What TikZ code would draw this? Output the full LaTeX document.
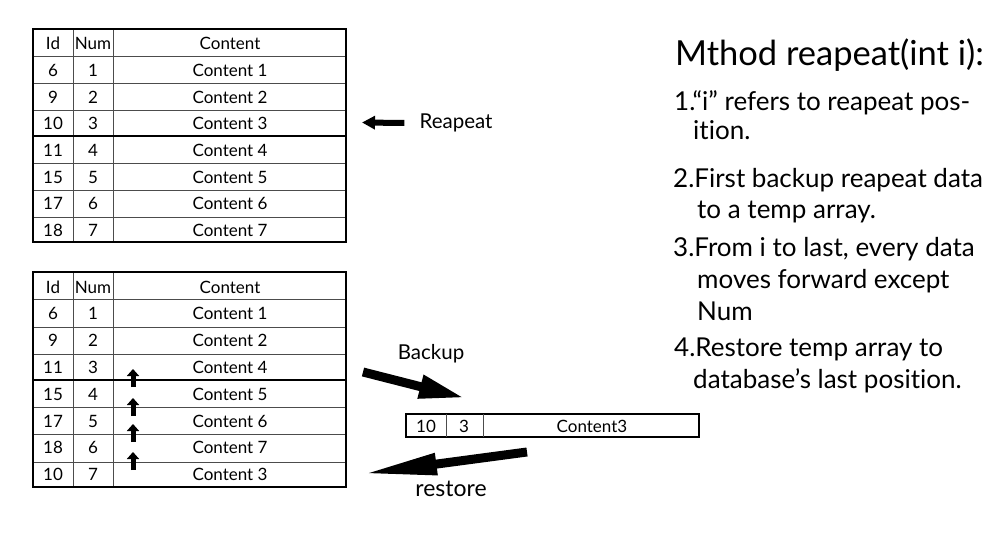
\documentclass[tikz,border=0pt]{standalone}
\usepackage{fontspec}
\setmainfont{Lato}[Ligatures=NoCommon]
\usetikzlibrary{arrows.meta}
\tikzset{
  cell/.style={font=\fontsize{17}{17}\selectfont, inner sep=0pt, text height=12pt, text depth=3.5pt},
  label/.style={font=\fontsize{20.5}{20.5}\selectfont, inner sep=0pt},
  line/.style={font=\fontsize{26}{26}\selectfont, inner sep=0pt, anchor=base west},
  grid/.style={line width=0.6pt, black!70},
  frame/.style={line width=1.6pt},
  uparrow/.style={line width=5pt, -{Triangle[length=7pt,width=12pt]}},
  fatarrow/.style={line width=6pt, -{Triangle[length=13pt,width=13pt]}}
}
\begin{document}
\begin{tikzpicture}[x=1pt,y=-1pt]
	\useasboundingbox (0,0) rectangle (1000,556);
	
	% upper table
	\foreach \y in {56,83,110,163,190,217} \draw[grid] (33,\y) -- (346,\y);
	\draw[grid] (73,29) -- (73,242);
	\draw[grid] (113,29) -- (113,242);
	\draw[frame] (33,29) rectangle (346,242);
	\draw[frame] (33,136) -- (346,136);
	\foreach \id/\num/\txt [count=\r] in {Id/Num/Content, 6/1/Content 1, 9/2/Content 2, 10/3/Content 3, 11/4/Content 4, 15/5/Content 5, 17/6/Content 6, 18/7/Content 7} {
		\node[cell] (up-id\r) at (53,{18.8+26.7*\r}) {\id};
		\node[cell] (up-num\r) at (93,{18.8+26.7*\r}) {\num};
		\node[cell] (up-txt\r) at (230,{18.8+26.7*\r}) {\txt};
	}
	
	% lower table
	\foreach \y in {299,327,354,407,434,462} \draw[grid] (33,\y) -- (346,\y);
	\draw[grid] (73,272) -- (73,487);
	\draw[grid] (113,272) -- (113,487);
	\draw[frame] (33,272) rectangle (346,487);
	\draw[frame] (33,380) -- (346,380);
	\foreach \id/\num/\txt [count=\r] in {Id/Num/Content, 6/1/Content 1, 9/2/Content 2, 11/3/Content 4, 15/4/Content 5, 17/5/Content 6, 18/6/Content 7, 10/7/Content 3} {
		\node[cell] (low-id\r) at (53,{262+26.8*\r}) {\id};
		\node[cell] (low-num\r) at (93,{262+26.8*\r}) {\num};
		\node[cell] (low-txt\r) at (230,{262+26.8*\r}) {\txt};
	}
	
	% rows moving up
	\foreach \y in {387,416,442,470} \draw[uparrow] (133,\y) -- (133,\y-18);
	
	% temp array
	\draw[frame] (406,414) rectangle (699,437);
	\draw[grid] (446,414) -- (446,437);
	\draw[grid] (483,414) -- (483,437);
	\node[cell] (tmp-id) at (426,428) {10};
	\node[cell] (tmp-num) at (464,428) {3};
	\node[cell] (tmp-txt) at (592,428) {Content3};
	
	% labels and arrows
	\node[label] (reapeat) at (456,123) {Reapeat};
	\coordinate (reapeat-tip) at (362,122.5);
	\draw[fatarrow] (reapeat.west) ++(-15,0) -- (reapeat-tip);
	
	\node[label] (backup) at (431,354) {Backup};
	\coordinate (backup-tail) at (363,372);
	\coordinate (backup-tip) at (465,398);
	\draw[line width=9pt, -{Triangle[length=46pt,width=22pt]}] (backup-tail) -- (backup-tip);
	
	\node[label, font=\fontsize{23}{23}\selectfont] (restore) at (451,489) {restore};
	\coordinate (restore-tail) at (527,452);
	\coordinate (restore-tip) at (362,474);
	\draw[line width=9pt, -{Triangle[length=75pt,width=20pt]}] (restore-tail) -- (restore-tip);
	
	% method description
	\node[line, font=\fontsize{34.5}{34.5}\selectfont] (title) at (675,66) {Mthod reapeat(int i):};
	\node[line] (step1a) at (674,111) {1.“i” refers to reapeat pos-};
	\node[line] (step1b) at (693,140) {ition.};
	\node[line] (step2a) at (673,187) {2.First backup reapeat data};
	\node[line] (step2b) at (697,218) {to a temp array.};
	\node[line] (step3a) at (673,256) {3.From i to last, every data};
	\node[line] (step3b) at (697,288) {moves forward except};
	\node[line] (step3c) at (697,320) {Num};
	\node[line] (step4a) at (674,356) {4.Restore temp array to};
	\node[line] (step4b) at (693,388) {database’s last position.};
\end{tikzpicture}
\end{document}
